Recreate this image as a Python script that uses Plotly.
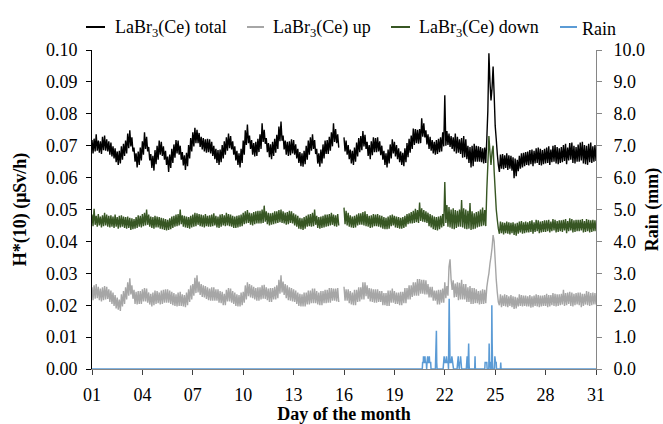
import plotly.graph_objects as go

# Dose-rate series, 90-minute samples (16 per day) from day 01 to day 31,
# stored in units of 1e-4 µSv/h; None marks the data gap on day 15-16.
total_e4 = [
    718, 676, 722, 682, 736, 684, 716, 678, 714, 674, 728, 686, 732, 684, 720, 682,
    714, 672, 710, 666, 698, 660, 692, 648, 682, 640, 684, 644, 698, 656, 706, 668,
    716, 676, 738, 692, 748, 698, 726, 682, 694, 650, 676, 632, 682, 640, 694, 654,
    714, 672, 742, 690, 728, 682, 696, 654, 674, 630, 668, 622, 686, 642, 700, 656,
    716, 672, 712, 668, 698, 656, 684, 640, 666, 618, 672, 630, 690, 646, 704, 662,
    718, 676, 716, 672, 700, 656, 680, 638, 670, 624, 678, 636, 702, 660, 724, 682,
    742, 698, 756, 708, 750, 708, 740, 696, 728, 688, 724, 682, 720, 678, 722, 680,
    720, 676, 712, 668, 700, 658, 690, 646, 686, 640, 688, 648, 702, 660, 714, 672,
    726, 684, 738, 692, 730, 688, 714, 672, 698, 654, 684, 640, 676, 632, 690, 646,
    716, 672, 748, 702, 766, 708, 732, 690, 718, 672, 708, 666, 712, 668, 722, 680,
    736, 690, 770, 712, 750, 706, 724, 680, 708, 664, 704, 658, 712, 668, 722, 678,
    734, 690, 760, 714, 776, 716, 732, 688, 716, 672, 712, 668, 714, 670, 720, 676,
    718, 672, 704, 660, 690, 646, 680, 636, 676, 634, 684, 642, 700, 656, 716, 672,
    726, 684, 736, 690, 718, 674, 690, 644, 676, 634, 688, 644, 704, 660, 716, 674,
    718, 674, 728, 684, 742, 698, 770, 712, 752, 708, 736, 694, None, None, None, None,
    726, 682, 716, 672, 702, 658, 688, 644, 684, 640, 694, 650, 710, 666, 724, 680,
    730, 686, 746, 698, 734, 690, 712, 668, 702, 658, 714, 670, 726, 680, 724, 680,
    726, 682, 714, 670, 700, 656, 684, 640, 676, 632, 688, 644, 704, 660, 720, 676,
    712, 666, 702, 658, 692, 648, 682, 640, 678, 636, 692, 648, 708, 664, 722, 678,
    732, 690, 754, 702, 752, 708, 750, 706, 752, 708, 786, 728, 770, 726, 748, 704,
    736, 690, 728, 684, 718, 676, 712, 672, 718, 674, 722, 680, 726, 682, 742, 698,
    858, 700, 746, 702, 738, 696, 730, 690, 726, 682, 738, 676, 728, 678, 720, 674,
    724, 662, 730, 664, 720, 658, 700, 646, 696, 632, 700, 636, 706, 650, 700, 650,
    698, 650, 696, 648, 692, 644, 694, 646, 720, 810, 990, 900, 842, 880, 948, 860,
    762, 720, 674, 640, 618, 672, 628, 674, 626, 670, 630, 676, 624, 670, 628, 668,
    622, 664, 598, 660, 604, 656, 620, 668, 628, 676, 632, 678, 636, 680, 640, 682,
    638, 686, 642, 688, 636, 684, 644, 692, 646, 694, 640, 690, 638, 686, 642, 690,
    644, 694, 646, 698, 640, 688, 648, 700, 650, 702, 644, 696, 642, 692, 646, 696,
    648, 702, 652, 706, 642, 694, 654, 708, 656, 710, 646, 700, 644, 696, 650, 704,
    650, 710, 654, 712, 644, 702, 642, 700, 640, 706, 648, 710, 646, 698, 650, 702,
    652,
]

up_e4 = [
    256, 216, 262, 220, 266, 222, 258, 216, 252, 212, 256, 216, 260, 218, 258, 220,
    250, 210, 246, 204, 240, 198, 232, 190, 224, 186, 218, 182, 234, 196, 244, 204,
    256, 218, 272, 230, 284, 234, 262, 220, 248, 204, 242, 202, 244, 204, 244, 204,
    250, 212, 254, 212, 252, 208, 240, 202, 236, 196, 240, 200, 246, 204, 244, 206,
    240, 202, 246, 204, 248, 208, 250, 208, 250, 208, 246, 204, 242, 200, 238, 198,
    234, 196, 240, 198, 242, 198, 234, 196, 232, 194, 240, 200, 250, 210, 262, 218,
    266, 230, 286, 238, 294, 240, 274, 232, 266, 226, 262, 224, 260, 220, 256, 216,
    252, 214, 256, 214, 256, 214, 250, 214, 250, 208, 244, 206, 242, 200, 236, 200,
    248, 212, 254, 212, 252, 208, 244, 204, 240, 198, 234, 196, 232, 196, 240, 200,
    242, 208, 262, 218, 272, 228, 266, 224, 262, 222, 258, 218, 254, 214, 256, 214,
    256, 218, 262, 220, 264, 220, 256, 216, 252, 210, 254, 210, 254, 218, 258, 218,
    262, 222, 280, 236, 294, 240, 274, 232, 266, 222, 262, 216, 256, 214, 254, 212,
    250, 210, 246, 204, 240, 198, 236, 196, 234, 196, 240, 196, 240, 202, 246, 202,
    246, 206, 252, 206, 252, 206, 244, 202, 240, 200, 244, 200, 244, 206, 248, 206,
    248, 208, 254, 208, 254, 214, 252, 214, 252, 212, 254, 210, None, None, None, None,
    258, 214, 250, 214, 250, 206, 244, 202, 240, 200, 248, 200, 248, 210, 256, 212,
    256, 218, 272, 218, 272, 228, 262, 220, 254, 212, 252, 210, 250, 208, 250, 208,
    250, 210, 244, 210, 244, 200, 238, 200, 238, 198, 246, 198, 246, 208, 252, 208,
    244, 204, 240, 204, 240, 200, 242, 200, 242, 206, 254, 206, 254, 218, 262, 218,
    262, 226, 272, 230, 272, 230, 282, 230, 282, 236, 280, 236, 280, 234, 278, 234,
    266, 224, 258, 224, 258, 214, 246, 214, 246, 202, 248, 202, 248, 208, 252, 208,
    272, 222, 260, 230, 320, 344, 280, 248, 278, 224, 268, 226, 272, 216, 270, 218,
    280, 218, 266, 218, 266, 210, 256, 210, 260, 204, 254, 204, 254, 206, 250, 206,
    244, 202, 246, 204, 250, 204, 248, 206, 256, 280, 300, 330, 352, 380, 420, 400,
    340, 280, 240, 210, 200, 234, 194, 230, 198, 234, 196, 232, 194, 228, 198, 232,
    194, 228, 188, 226, 190, 224, 196, 234, 198, 232, 196, 230, 198, 230, 196, 228,
    196, 232, 192, 228, 194, 230, 198, 234, 196, 232, 194, 230, 196, 230, 198, 232,
    198, 236, 194, 232, 196, 232, 200, 238, 198, 236, 196, 234, 198, 234, 200, 236,
    202, 248, 198, 238, 200, 240, 204, 242, 198, 240, 196, 236, 200, 238, 202, 240,
    200, 240, 194, 236, 198, 236, 202, 244, 200, 242, 198, 238, 200, 240, 202, 238,
    202,
]

down_e4 = [
    484, 448, 502, 452, 480, 446, 486, 450, 478, 444, 482, 448, 490, 450, 484, 446,
    480, 444, 482, 446, 478, 442, 484, 446, 476, 440, 480, 444, 482, 446, 478, 442,
    476, 440, 478, 442, 474, 436, 472, 438, 470, 440, 476, 442, 482, 446, 480, 444,
    486, 448, 490, 450, 500, 452, 484, 446, 478, 442, 476, 440, 480, 444, 478, 444,
    476, 440, 474, 438, 472, 436, 470, 434, 468, 436, 472, 438, 478, 442, 480, 446,
    484, 448, 486, 450, 500, 454, 482, 446, 480, 444, 478, 442, 476, 440, 480, 444,
    484, 446, 490, 448, 488, 452, 486, 448, 484, 446, 482, 444, 486, 448, 480, 446,
    482, 446, 484, 448, 488, 450, 480, 444, 478, 442, 484, 446, 486, 450, 482, 448,
    490, 450, 486, 448, 484, 446, 480, 442, 478, 442, 480, 444, 482, 446, 484, 448,
    490, 454, 494, 456, 498, 458, 490, 452, 488, 450, 492, 454, 494, 456, 496, 456,
    496, 456, 500, 458, 512, 462, 494, 454, 490, 450, 488, 452, 490, 454, 494, 456,
    494, 458, 498, 460, 500, 458, 494, 456, 490, 452, 492, 454, 496, 458, 494, 456,
    488, 450, 484, 446, 480, 440, 474, 438, 472, 436, 476, 440, 480, 446, 484, 448,
    486, 446, 490, 448, 500, 452, 480, 442, 476, 440, 478, 442, 480, 444, 484, 446,
    484, 448, 486, 450, 490, 452, 484, 448, 482, 446, 486, 450, None, None, None, None,
    506, 454, 496, 450, 490, 446, 482, 444, 478, 442, 480, 444, 484, 450, 488, 452,
    488, 452, 492, 450, 494, 448, 486, 446, 480, 442, 482, 444, 486, 448, 484, 448,
    486, 446, 482, 444, 480, 440, 476, 438, 474, 438, 478, 440, 482, 448, 484, 450,
    480, 444, 478, 442, 476, 440, 474, 440, 476, 442, 480, 446, 486, 454, 488, 456,
    492, 456, 496, 458, 502, 460, 498, 458, 522, 464, 504, 462, 498, 460, 494, 458,
    490, 448, 486, 444, 482, 438, 478, 436, 476, 434, 478, 438, 480, 444, 486, 448,
    586, 458, 514, 446, 508, 444, 500, 440, 504, 438, 498, 442, 496, 446, 500, 446,
    530, 444, 504, 440, 500, 438, 496, 440, 520, 436, 494, 438, 488, 440, 492, 444,
    494, 446, 500, 448, 506, 450, 498, 448, 560, 640, 730, 680, 640, 680, 700, 620,
    560, 500, 468, 440, 424, 462, 426, 460, 422, 458, 426, 462, 424, 460, 422, 458,
    426, 460, 420, 456, 418, 458, 424, 462, 428, 464, 424, 460, 426, 462, 428, 460,
    428, 464, 430, 466, 424, 460, 430, 468, 432, 466, 426, 462, 428, 464, 430, 466,
    430, 466, 432, 468, 428, 462, 432, 470, 434, 468, 428, 464, 430, 466, 432, 466,
    430, 468, 434, 470, 426, 464, 432, 472, 434, 470, 428, 466, 430, 468, 432, 468,
    432, 468, 434, 470, 428, 464, 430, 470, 432, 468, 428, 466, 430, 468, 432, 466,
    432,
]

# Rain gauge record (day of month, mm)
rain_day = [
    1.00,
    20.66, 20.68, 20.72, 20.73, 20.75, 20.80, 20.82, 20.84, 20.90, 20.92,
    20.94, 20.98, 21.00, 21.06, 21.08, 21.10, 21.16, 21.18,
    21.44, 21.46, 21.48, 21.50, 21.52, 21.54,
    21.90, 21.92, 21.96, 22.00, 22.02, 22.06, 22.10, 22.14, 22.20, 22.22,
    22.26, 22.28, 22.31, 22.34, 22.38, 22.42, 22.46, 22.50, 22.52,
    22.73, 22.75, 22.79, 22.80, 22.82, 22.86, 22.88, 22.92, 22.94, 22.98, 23.00,
    23.28, 23.30, 23.33, 23.35, 23.38, 23.40, 23.42, 23.44, 23.46,
    23.78, 23.80, 23.82,
    24.38, 24.40, 24.50, 24.52,
    24.62, 24.64, 24.66, 24.70, 24.72, 24.78, 24.80, 24.82, 24.84, 24.86,
    24.96, 24.98, 25.02, 25.06, 25.08,
    25.31, 25.33, 25.35,
    31.00,
]
rain_mm = [
    0.0,
    0.0, 0.2, 0.2, 0.4, 0.2, 0.2, 0.4, 0.2, 0.2, 0.0,
    0.2, 0.4, 0.2, 0.2, 0.4, 0.2, 0.2, 0.0,
    0.0, 0.4, 0.8, 1.2, 0.2, 0.0,
    0.0, 0.2, 0.4, 0.2, 0.2, 0.2, 0.4, 0.2, 0.2, 0.0,
    2.2, 0.9, 0.2, 0.2, 0.2, 0.4, 0.2, 0.2, 0.0,
    0.0, 0.2, 0.2, 0.4, 0.2, 0.0, 0.2, 0.2, 0.4, 0.2, 0.0,
    0.0, 0.2, 0.4, 0.2, 0.0, 0.4, 0.8, 0.2, 0.0,
    0.0, 0.4, 0.0,
    0.0, 0.2, 0.2, 0.0,
    0.0, 0.8, 0.2, 0.2, 0.0, 0.0, 2.0, 0.8, 0.2, 0.0,
    0.0, 0.4, 0.2, 0.2, 0.0,
    0.0, 0.2, 0.0,
    0.0,
]

day_ticks = [1, 4, 7, 10, 13, 16, 19, 22, 25, 28, 31]
day_labels = ["01", "04", "07", "10", "13", "16", "19", "22", "25", "28", "31"]

series_names = ["LaBr<sub>3</sub>(Ce) total", "LaBr<sub>3</sub>(Ce) up",
                "LaBr<sub>3</sub>(Ce) down", "Rain"]
series_colors = ["#000000", "#A6A6A6", "#375623", "#5B9BD5"]

SAMPLES_PER_DAY = 16


def sample_days(vals):
    return [1 + i / SAMPLES_PER_DAY for i in range(len(vals))]


def to_usv(vals):
    return [None if v is None else v / 10000 for v in vals]


FONT = "Liberation Serif, Times New Roman, serif"
GRAY_AXIS = "#868686"

# plot-area geometry in pixels (used to place the key above the plot)
W, H = 663, 424
PLOT_L, PLOT_R, PLOT_T, PLOT_B = 92, 596, 50, 369


def px_x(p):
    return (p - PLOT_L) / (PLOT_R - PLOT_L)


def px_y(p):
    return (PLOT_B - p) / (PLOT_B - PLOT_T)


fig = go.Figure()
for vals, name, color in zip([total_e4, up_e4, down_e4], series_names[:3], series_colors[:3]):
    fig.add_trace(go.Scatter(
        x=sample_days(vals), y=to_usv(vals), mode="lines", name=name,
        line=dict(color=color, width=1.4, simplify=False), connectgaps=False))
fig.add_trace(go.Scatter(
    x=rain_day, y=rain_mm, mode="lines", name=series_names[3], yaxis="y2",
    line=dict(color=series_colors[3], width=1.5)))

# key along the top: short line sample followed by its label
key_line_px = [(86, 105), (247, 264), (391, 410), (560, 577)]
key_text_px = [113, 271, 417, 580]
shapes, annotations = [], []
for (x0, x1), tx, name, color in zip(key_line_px, key_text_px, series_names, series_colors):
    shapes.append(dict(type="line", xref="paper", yref="paper",
                       x0=px_x(x0), x1=px_x(x1), y0=px_y(27), y1=px_y(27),
                       line=dict(color=color, width=2)))
    annotations.append(dict(xref="paper", yref="paper", x=px_x(tx), y=px_y(29),
                            xanchor="left", yanchor="middle", showarrow=False,
                            text=name, font=dict(family=FONT, size=18, color="#000000")))

fig.update_layout(
    width=W, height=H,
    margin=dict(l=PLOT_L, r=W - PLOT_R, t=PLOT_T, b=H - PLOT_B, autoexpand=False),
    paper_bgcolor="white", plot_bgcolor="white",
    font=dict(family=FONT, size=18, color="#000000"),
    showlegend=False,
    shapes=shapes, annotations=annotations,
    xaxis=dict(
        range=[1, 31], tickmode="array", tickvals=day_ticks, ticktext=day_labels,
        showgrid=False, zeroline=False, automargin=False,
        showline=True, linecolor=GRAY_AXIS, linewidth=1,
        ticks="outside", ticklen=5, tickcolor="#404040",
        ticklabelstandoff=4,
        title=dict(text="<b>Day of the month</b>", standoff=4,
                   font=dict(family=FONT, size=18)),
    ),
    yaxis=dict(
        range=[0, 0.10], dtick=0.01, tickformat=".2f",
        showgrid=False, zeroline=False, automargin=False,
        showline=True, linecolor="#000000", linewidth=1,
        ticks="outside", ticklen=5, tickcolor="#000000",
        ticklabelstandoff=5,
        title=dict(text="<b>H*(10) (μSv/h)</b>", standoff=14,
                   font=dict(family=FONT, size=18)),
    ),
    yaxis2=dict(
        range=[0, 10], dtick=1, tickformat=".1f",
        overlaying="y", side="right", automargin=False,
        showgrid=False, zeroline=False,
        showline=True, linecolor=GRAY_AXIS, linewidth=1,
        ticks="outside", ticklen=5, tickcolor=GRAY_AXIS,
        ticklabelstandoff=8,
        title=dict(text="<b>Rain (mm)</b>", standoff=14,
                   font=dict(family=FONT, size=18)),
    ),
)

fig.write_html("out.html")
